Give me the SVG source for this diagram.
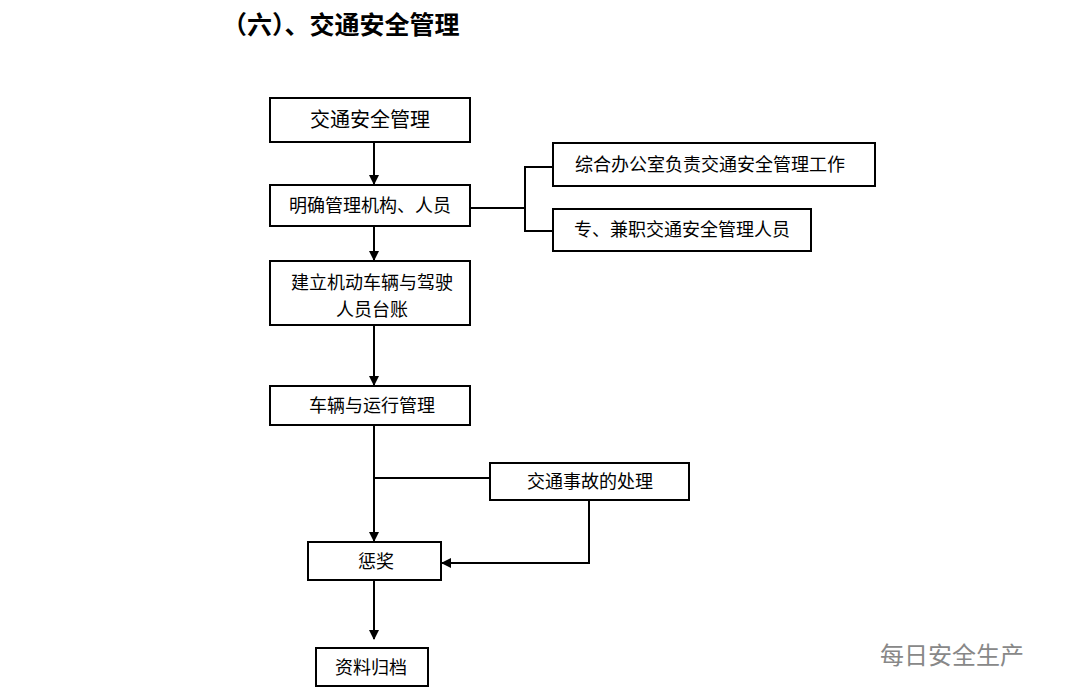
<svg xmlns="http://www.w3.org/2000/svg" width="1080" height="700" viewBox="0 0 1080 700">
<style>
.b{fill:#fff;stroke:#000;stroke-width:2}
.t{font-family:"Noto Sans CJK SC",sans-serif;font-size:18px;fill:#000;text-anchor:middle}
.c{stroke:#000;stroke-width:2;fill:none}
</style>
<defs><marker id="a" markerWidth="10" markerHeight="10" refX="9" refY="5" orient="auto" markerUnits="userSpaceOnUse"><path d="M0,0 L10,5 L0,10 z" fill="#000"/></marker></defs>
<rect width="1080" height="700" fill="#fff"/>
<text x="222" y="34" style="font-family:'Noto Sans CJK SC',sans-serif;font-size:25px;font-weight:bold">（六）、交通安全管理</text>
<g id="connectors">
<line class="c" x1="374" y1="142" x2="374" y2="184" marker-end="url(#a)"/>
<polyline class="c" points="470,208 525,208"/>
<polyline class="c" points="553,167 525,167 525,231 553,231"/>
<line class="c" x1="374" y1="226" x2="374" y2="260" marker-end="url(#a)"/>
<line class="c" x1="374" y1="325" x2="374" y2="385" marker-end="url(#a)"/>
<line class="c" x1="374" y1="425" x2="374" y2="541" marker-end="url(#a)"/>
<line class="c" x1="374" y1="478" x2="490" y2="478"/>
<polyline class="c" points="589,500 589,563 442,563" marker-end="url(#a)"/>
<line class="c" x1="374" y1="580" x2="374" y2="639" marker-end="url(#a)"/>
</g>
<g id="n1"><rect class="b" x="270" y="98" width="200" height="44"/><text class="t" x="370" y="127" style="font-size:20px">交通安全管理</text></g>
<g id="n2"><rect class="b" x="270" y="185" width="200" height="41"/><text class="t" x="370" y="212">明确管理机构、人员</text></g>
<g id="n3"><rect class="b" x="553" y="143" width="322" height="43"/><text class="t" x="710" y="171">综合办公室负责交通安全管理工作</text></g>
<g id="n4"><rect class="b" x="553" y="209" width="258" height="42"/><text class="t" x="682" y="236">专、兼职交通安全管理人员</text></g>
<g id="n5"><rect class="b" x="270" y="261" width="200" height="64"/><text class="t" x="372" y="289">建立机动车辆与驾驶</text><text class="t" x="372" y="316">人员台账</text></g>
<g id="n6"><rect class="b" x="270" y="386" width="200" height="39"/><text class="t" x="372" y="412">车辆与运行管理</text></g>
<g id="n7"><rect class="b" x="490" y="463" width="199" height="37"/><text class="t" x="590" y="488">交通事故的处理</text></g>
<g id="n8"><rect class="b" x="308" y="542" width="133" height="38"/><text class="t" x="376" y="568">惩奖</text></g>
<g id="n9"><rect class="b" x="316" y="648" width="112" height="38"/><text class="t" x="371" y="674">资料归档</text></g>
<text x="880" y="664" style="font-family:'Noto Sans CJK SC',sans-serif;font-size:24px;fill:#888">每日安全生产</text>
</svg>
